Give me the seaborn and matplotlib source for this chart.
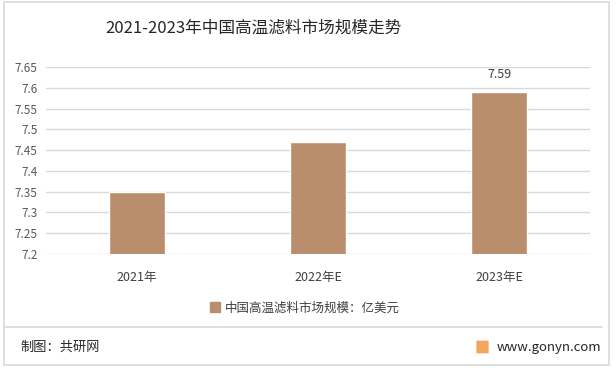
import matplotlib
matplotlib.use("Agg")
import matplotlib.pyplot as plt
import matplotlib.patches as mpatches
from matplotlib.lines import Line2D
import seaborn as sns
import pandas as pd

years = ["2021年", "2022年E", "2023年E"]
values = [7.35, 7.47, 7.59]
yticks = [7.2, 7.25, 7.3, 7.35, 7.4, 7.45, 7.5, 7.55, 7.6, 7.65]
ytick_labels = ["7.2", "7.25", "7.3", "7.35", "7.4", "7.45", "7.5", "7.55", "7.6", "7.65"]
series_name = "中国高温滤料市场规模：亿美元"
title = "2021-2023年中国高温滤料市场规模走势"
source = "制图：共研网"
site = "www.gonyn.com"

sns.set_theme(style="white")
plt.rcParams['font.family'] = ['Noto Sans CJK SC', 'DejaVu Sans']

W, H = 616, 371
fig = plt.figure(figsize=(W / 100, H / 100), dpi=100)
fig.patch.set_facecolor("white")

def fx(px):
    return px / W

def fy(py):
    return 1 - py / H

ax = fig.add_axes([fx(46), fy(254), fx(590) - fx(46), fy(67) - fy(254)])
ax.set_facecolor("none")

df = pd.DataFrame({"year": years, "value": values})
bar_color = "#BA8E6C"
sns.barplot(data=df, x="year", y="value", color=bar_color, width=0.31,
            ax=ax, label=series_name, saturation=1)

ax.set_ylim(7.2, 7.65)
ax.set_xlim(-0.5, 2.5)
ax.set_yticks(yticks)
ax.set_yticklabels(ytick_labels)
ax.yaxis.grid(True, color="#D9D9D9", linewidth=1)
ax.set_axisbelow(True)
for s in ax.spines.values():
    s.set_visible(False)
ax.set_xlabel("")
ax.set_ylabel("")
ax.tick_params(axis="y", labelsize=8.5, labelcolor="#595959", length=0, pad=6)
ax.tick_params(axis="x", labelsize=9, labelcolor="#404040", length=0, pad=12)

# data label on the last bar
ax.annotate(f"{values[2]:.2f}", xy=(2, values[2]), xytext=(0, 8),
            textcoords="offset points", ha="center", va="bottom",
            fontsize=9, color="#404040")

# title
fig.text(fx(253), fy(28), title, ha="center", va="center", fontsize=12, color="#262626")

# legend
handle = Line2D([], [], marker="s", linestyle="none", markersize=7,
                markerfacecolor=bar_color, markeredgecolor=bar_color)
fig.legend([handle], [series_name], loc="center", bbox_to_anchor=(fx(305), fy(308)),
           frameon=False, fontsize=9, handlelength=0.8, handletextpad=0.4,
           labelcolor="#404040")
if ax.get_legend() is not None:
    ax.get_legend().remove()

# borders
fig.patches.append(mpatches.Rectangle((fx(4), fy(365)), fx(609) - fx(4), fy(2) - fy(365),
                                      transform=fig.transFigure, fill=False,
                                      edgecolor="#D9D9D9", linewidth=1.2))
fig.lines.append(Line2D([fx(4), fx(602)], [fy(327), fy(327)], transform=fig.transFigure,
                        color="#D9D9D9", linewidth=1.2))

# footer
fig.text(fx(20), fy(347), source, ha="left", va="center", fontsize=9.5, color="#262626")
fig.patches.append(mpatches.FancyBboxPatch((fx(477), fy(353)), fx(11), fy(341) - fy(353),
                                           boxstyle="round,pad=0.001", transform=fig.transFigure,
                                           facecolor="#F2A65E", edgecolor="none"))
fig.text(fx(497), fy(347), site, ha="left", va="center", fontsize=9.5, color="#262626")

fig.savefig("out.png", dpi=100, facecolor="white")
